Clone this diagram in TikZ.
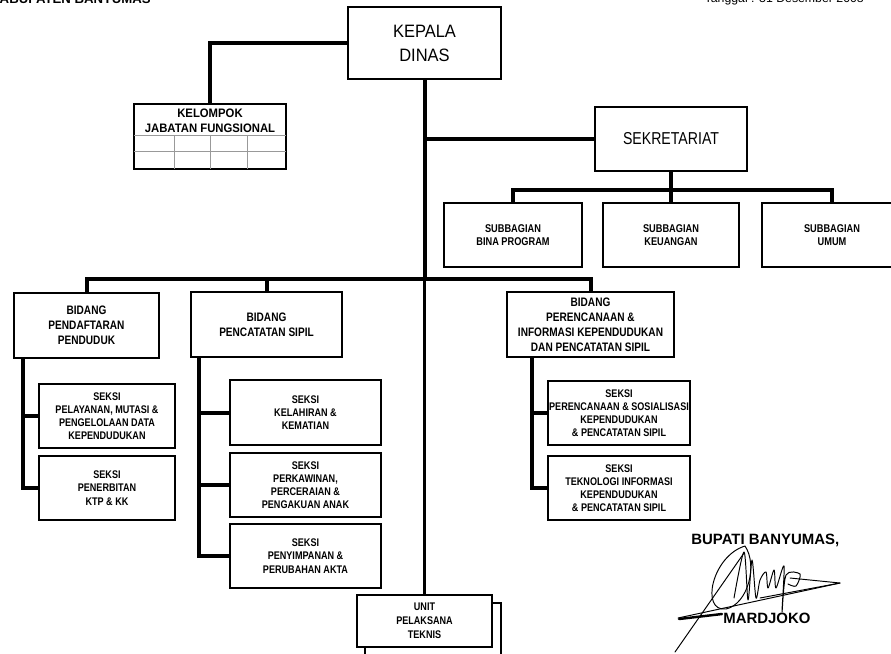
\documentclass[tikz,border=0pt]{standalone}
\usepackage{fontspec}
\setmainfont{Liberation Sans}
\newfontfamily\narrowfont{Liberation Sans}[FakeStretch=0.82]
\newfontfamily\midfont{Liberation Sans}[FakeStretch=0.92]

\begin{document}
\begin{tikzpicture}[x=0.02cm,y=-0.02cm,
    sign/.style={line width=0.55pt,line cap=round,line join=round}]

      \useasboundingbox (0,0) rectangle (891,653);
      \clip (0,0) rectangle (891,653);

      \node[anchor=base east,font=\bfseries\fontsize{7.5}{9}\selectfont] (kab) at (157,3) {KABUPATEN BANYUMAS};
      \node[anchor=base east,font=\fontsize{7}{8}\selectfont] (tgl) at (870,2) {Tanggal : 31 Desember 2008};

      \begin{scope}[every node/.style={draw,fill=white,line width=0.026cm,inner sep=0pt,align=center,
          font=\narrowfont\bfseries\fontsize{6.3}{7.5}\selectfont}]
        \node[minimum width=3.06cm,minimum height=1.44cm,font=\midfont\fontsize{10.2}{13.6}\selectfont]
          (kepala) at (424.5,43) {KEPALA\\DINAS};
        \node[minimum width=3.04cm,minimum height=1.30cm] (kelompok) at (210,136.5) {};
        \node[minimum width=3.04cm,minimum height=1.28cm,font=\narrowfont\fontsize{9.8}{12}\selectfont]
          (sekretariat) at (671,139) {SEKRETARIAT};

        \node[minimum width=2.76cm,minimum height=1.28cm,font=\narrowfont\bfseries\fontsize{6.4}{7.1}\selectfont]
          (bina) at (513,235) {SUBBAGIAN\\BINA PROGRAM};
        \node[minimum width=2.72cm,minimum height=1.28cm,font=\narrowfont\bfseries\fontsize{6.4}{7.1}\selectfont]
          (keuangan) at (671,235) {SUBBAGIAN\\KEUANGAN};
        \node[minimum width=2.80cm,minimum height=1.28cm,font=\narrowfont\bfseries\fontsize{6.4}{7.1}\selectfont]
          (umum) at (832,235) {SUBBAGIAN\\UMUM};

        \node[minimum width=2.90cm,minimum height=1.30cm,font=\narrowfont\bfseries\fontsize{7}{8.5}\selectfont]
          (pendaftaran) at (86.5,325.5) {BIDANG\\PENDAFTARAN\\PENDUDUK};
        \node[minimum width=3.02cm,minimum height=1.30cm,font=\narrowfont\bfseries\fontsize{7}{8.5}\selectfont]
          (pencatatan) at (266.5,324.5) {BIDANG\\PENCATATAN SIPIL};
        \node[minimum width=3.34cm,minimum height=1.30cm,font=\narrowfont\bfseries\fontsize{7}{8.5}\selectfont]
          (perencanaan) at (590.5,324.5) {BIDANG\\PERENCANAAN \&\\INFORMASI KEPENDUDUKAN\\DAN PENCATATAN SIPIL};

        \node[minimum width=2.72cm,minimum height=1.28cm] (pelayanan) at (107,416)
          {SEKSI\\PELAYANAN, MUTASI \&\\PENGELOLAAN DATA\\KEPENDUDUKAN};
        \node[minimum width=2.72cm,minimum height=1.28cm] (penerbitan) at (107,488)
          {SEKSI\\PENERBITAN\\KTP \& KK};

        \node[minimum width=3.02cm,minimum height=1.30cm] (kelahiran) at (305.5,412.5)
          {SEKSI\\KELAHIRAN \&\\KEMATIAN};
        \node[minimum width=3.02cm,minimum height=1.28cm] (perkawinan) at (305.5,485)
          {SEKSI\\PERKAWINAN,\\PERCERAIAN \&\\PENGAKUAN ANAK};
        \node[minimum width=3.02cm,minimum height=1.28cm] (penyimpanan) at (305.5,556)
          {SEKSI\\PENYIMPANAN \&\\PERUBAHAN AKTA};

        \node[minimum width=2.84cm,minimum height=1.28cm] (sosialisasi) at (619,413)
          {SEKSI\\PERENCANAAN \& SOSIALISASI\\KEPENDUDUKAN\\\& PENCATATAN SIPIL};
        \node[minimum width=2.84cm,minimum height=1.28cm] (teknologi) at (619,488)
          {SEKSI\\TEKNOLOGI INFORMASI\\KEPENDUDUKAN\\\& PENCATATAN SIPIL};

        \node[minimum width=2.72cm,minimum height=1.14cm] (unitback) at (433,631.5) {};
        \node[minimum width=2.70cm,minimum height=1.04cm,font=\narrowfont\bfseries\fontsize{6.3}{7.9}\selectfont]
          (unit) at (424.5,621) {UNIT\\PELAKSANA\\TEKNIS};
      \end{scope}

      % kelompok jabatan fungsional
      \node[font=\midfont\bfseries\fontsize{7}{8.5}\selectfont,align=center,inner sep=0pt] (kelompoktext) at (210,120.5)
        {KELOMPOK\\JABATAN FUNGSIONAL};
      \begin{scope}[gray!80,line width=0.02cm]
        \draw (134,135) -- (286,135);
        \draw (134,151) -- (286,151);
        \foreach \x in {174,210,247}
          \draw (\x,135) -- (\x,168.5);
      \end{scope}

      \coordinate (sekbar) at (671,190);
      \coordinate (bidbar) at (424.5,279);
      \coordinate (pdtop)  at (23,358);
      \coordinate (pctop)  at (199,357);
      \coordinate (prtop)  at (532,357);

      \begin{scope}[line width=0.08cm]
        \draw (kepala.west) -| (kelompok.north);
        \draw (kepala.south) -- (bidbar);
        \draw[line width=0.05cm] (bidbar) -- (unit.north);
        \draw (kepala.south |- sekretariat.west) -- (sekretariat.west);

        \draw (sekretariat.south) -- (sekbar);
        \draw (bina.north) |- (sekbar) -| (umum.north);
        \draw (sekbar) -- (keuangan.north);

        \draw (pendaftaran.north) |- (bidbar) -| (perencanaan.north);
        \draw (pencatatan.north) -- (pencatatan.north |- bidbar);

        \draw (pdtop) |- (pelayanan.west);
        \draw (pdtop) |- (penerbitan.west);
        \draw (pctop) |- (kelahiran.west);
        \draw (pctop) |- (perkawinan.west);
        \draw (pctop) |- (penyimpanan.west);
        \draw (prtop) |- (sosialisasi.west);
        \draw (prtop) |- (teknologi.west);
      \end{scope}

      % tanda tangan
      \node[anchor=base west,font=\bfseries\fontsize{8.5}{10}\selectfont,inner sep=0pt] (bupati) at (691,544) {BUPATI BANYUMAS,};
      \draw[sign] (745,546) .. controls (712,556) and (700,612) .. (726,609)
                            .. controls (748,604) and (758,565) .. (745,546);
      \draw[sign] plot[smooth] coordinates {(734,598) (744,552) (748,600) (752,560) (756,598) (760,580)
        (766,572) (768,588) (774,570) (776,588) (784,566) (782,612) (786,575) (800,574) (796,586) (788,584)};
      \draw[sign] (790,578) -- (840,583) -- (760,598);
      \draw[sign] (678,618) -- (840,583);
      \draw[sign,line width=1.4pt] (679,619) -- (722,614);
      \draw[sign] (675,652) -- (744,553);
      \node[anchor=base west,font=\bfseries\fontsize{8.5}{10}\selectfont,inner sep=0pt] (mardjoko) at (723,623) {MARDJOKO};

    \end{tikzpicture}
\end{document}
